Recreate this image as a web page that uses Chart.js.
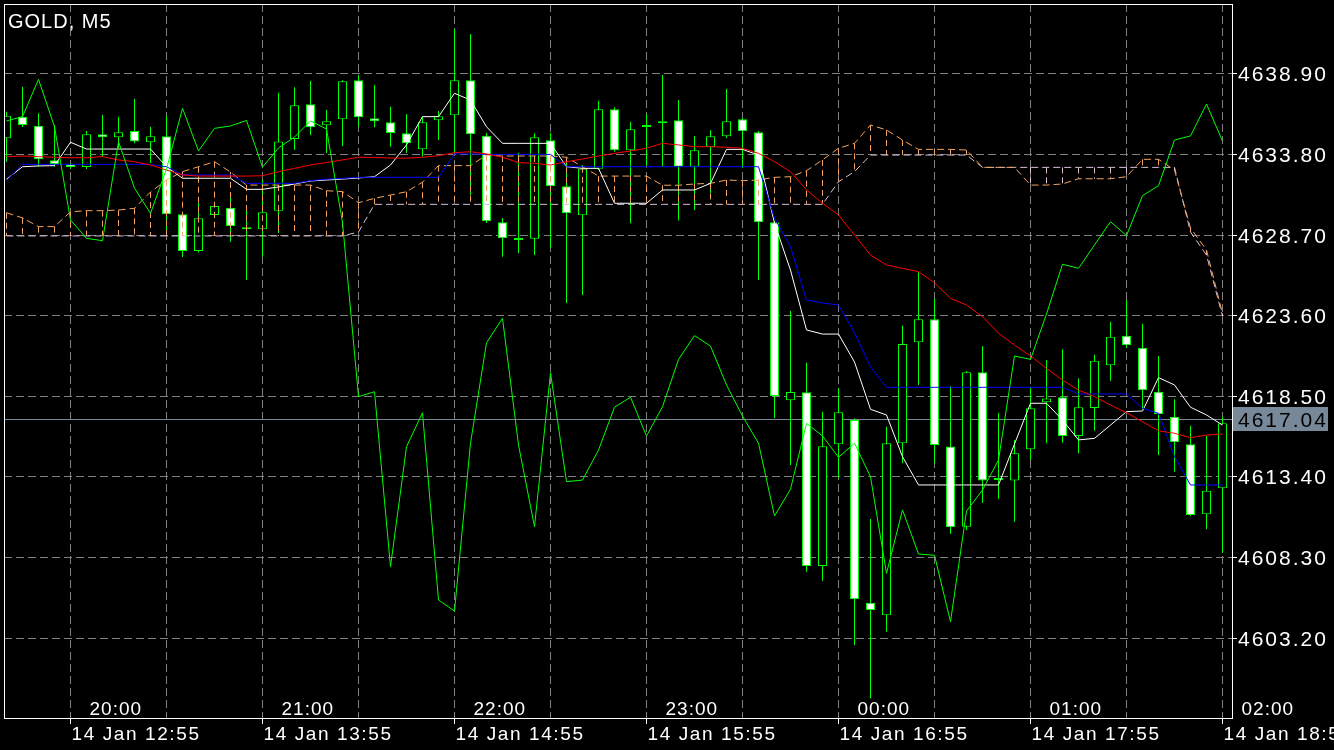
<!DOCTYPE html>
<html>
<head>
<meta charset="utf-8">
<title>GOLD, M5</title>
<script src="https://cdn.jsdelivr.net/npm/chart.js@4.4.1/dist/chart.umd.min.js"></script>
<style>
  html, body { margin: 0; padding: 0; background: #000; overflow: hidden; }
  canvas { display: block; }
</style>
</head>
<body>
<canvas id="chart" width="1334" height="750"></canvas>
<script>
// M5 bars, 14 Jan 12:35 .. 18:55
const open = [
  4634.83, 4636.20, 4635.63, 4633.44, 4633.18, 4633.01, 4635.08, 4634.89, 4635.29, 4634.58,
  4634.96, 4630.02, 4627.70, 4629.98, 4630.44, 4629.20, 4629.07, 4630.25, 4634.79, 4636.98,
  4635.65, 4636.03, 4638.50, 4636.10, 4635.84, 4635.15, 4634.13, 4635.97, 4636.29, 4638.50,
  4634.99, 4629.51, 4628.39, 4628.48, 4634.70, 4631.79, 4629.96, 4632.91, 4636.67, 4634.07,
  4635.55, 4635.78, 4635.97, 4633.03, 4634.28, 4634.96, 4636.03, 4635.21, 4629.51, 4618.25,
  4618.75, 4607.76, 4615.46, 4617.00, 4605.44, 4604.64, 4615.53, 4621.92, 4623.37, 4615.32,
  4610.25, 4620.02, 4613.20, 4613.18, 4615.15, 4618.12, 4618.44, 4615.99, 4617.76, 4620.46,
  4622.34, 4621.58, 4618.79, 4617.21, 4615.46, 4611.03, 4612.68
];
const high = [
  4636.51, 4638.10, 4636.41, 4635.67, 4633.27, 4635.29, 4636.31, 4636.20, 4637.32, 4635.56,
  4636.26, 4630.10, 4630.74, 4630.74, 4631.39, 4630.61, 4632.19, 4637.72, 4638.06, 4638.46,
  4636.62, 4638.50, 4638.84, 4638.20, 4636.83, 4636.37, 4636.20, 4636.56, 4641.73, 4641.43,
  4635.17, 4629.79, 4633.90, 4635.15, 4635.17, 4633.46, 4633.14, 4637.21, 4636.79, 4635.88,
  4636.37, 4638.84, 4637.25, 4634.98, 4635.36, 4637.95, 4636.12, 4635.29, 4629.60, 4623.92,
  4620.63, 4617.53, 4619.01, 4617.10, 4610.74, 4616.58, 4622.97, 4626.35, 4624.70, 4619.15,
  4620.10, 4621.68, 4617.44, 4615.74, 4619.11, 4620.80, 4621.48, 4619.64, 4621.13, 4623.22,
  4624.60, 4623.10, 4621.05, 4618.31, 4616.64, 4616.01, 4617.21
];
const low = [
  4633.35, 4635.55, 4633.03, 4633.03, 4632.89, 4632.89, 4633.67, 4634.20, 4634.51, 4633.27,
  4628.82, 4627.32, 4627.62, 4629.79, 4628.29, 4625.86, 4627.34, 4628.84, 4634.09, 4635.04,
  4633.90, 4634.34, 4635.56, 4635.53, 4634.30, 4633.90, 4633.67, 4634.72, 4633.88, 4631.24,
  4629.47, 4627.34, 4627.57, 4627.44, 4627.89, 4624.41, 4624.91, 4632.82, 4633.98, 4629.45,
  4633.08, 4633.03, 4629.62, 4630.29, 4631.37, 4634.85, 4632.95, 4625.86, 4617.13, 4614.15,
  4607.40, 4606.83, 4613.31, 4602.76, 4599.39, 4603.60, 4614.26, 4619.22, 4614.26, 4609.79,
  4610.04, 4611.77, 4612.00, 4610.56, 4614.47, 4615.53, 4615.56, 4614.89, 4616.32, 4619.49,
  4621.56, 4617.68, 4614.79, 4613.73, 4610.93, 4610.08, 4608.58
];
const close = [
  4636.26, 4635.67, 4633.50, 4633.20, 4633.01, 4635.08, 4634.89, 4635.21, 4634.62, 4634.96,
  4630.02, 4627.70, 4629.77, 4630.55, 4629.28, 4629.07, 4630.15, 4634.62, 4636.92, 4635.53,
  4635.91, 4638.44, 4636.16, 4635.91, 4635.17, 4634.51, 4635.84, 4636.22, 4638.50, 4635.08,
  4629.58, 4628.50, 4628.42, 4634.89, 4631.79, 4630.08, 4632.91, 4636.67, 4634.07, 4635.40,
  4635.57, 4635.91, 4633.03, 4634.07, 4634.96, 4635.91, 4635.27, 4629.51, 4618.52, 4618.77,
  4607.76, 4615.34, 4617.49, 4605.65, 4604.98, 4615.53, 4621.81, 4623.37, 4615.42, 4610.21,
  4620.02, 4613.18, 4613.22, 4614.89, 4617.74, 4618.37, 4615.99, 4617.81, 4620.75, 4622.27,
  4621.73, 4618.88, 4617.36, 4615.59, 4610.99, 4612.53, 4616.79
];

// indicator lines, one value per bar
const chikou = [
  4635.93, 4636.20, 4638.56, 4635.56, 4629.66, 4628.50, 4628.35, 4634.62, 4631.67, 4630.08,
  4632.89, 4636.73, 4634.03, 4635.46, 4635.61, 4635.96, 4633.01, 4634.22, 4634.91, 4635.93,
  4635.42, 4629.51, 4618.48, 4618.79, 4607.72, 4615.31, 4617.46, 4605.61, 4604.91, 4615.53,
  4621.89, 4623.44, 4615.42, 4610.25, 4619.99, 4613.10, 4613.20, 4615.10, 4617.81, 4618.44,
  4615.99, 4617.84, 4620.84, 4622.34, 4621.68, 4619.22, 4617.25, 4615.53, 4610.93, 4612.62,
  4616.79, 4615.99, 4614.64, 4615.53, 4613.41, 4607.30, 4611.31, 4608.52, 4608.44, 4604.24,
  4611.24, 4612.57, 4614.47, 4621.05, 4620.84, 4623.71, 4626.86, 4626.60, 4628.08, 4629.55,
  4628.67, 4631.20, 4631.83, 4634.72, 4634.98, 4637.00, 4634.66
];
const redLine = [
  4633.67, 4633.71, 4633.67, 4633.63, 4633.60, 4633.60, 4633.67, 4633.46, 4633.35, 4633.14,
  4632.82, 4632.51, 4632.44, 4632.44, 4632.44, 4632.44, 4632.46, 4632.72, 4632.93, 4633.14,
  4633.30, 4633.46, 4633.63, 4633.62, 4633.58, 4633.57, 4633.63, 4633.73, 4633.92, 4633.98,
  4633.84, 4633.63, 4633.29, 4633.25, 4633.14, 4633.35, 4633.52, 4633.71, 4633.88, 4634.03,
  4634.20, 4634.51, 4634.41, 4634.30, 4634.30, 4634.26, 4634.20, 4633.88, 4633.35, 4632.72,
  4631.56, 4630.72, 4629.98, 4628.71, 4627.44, 4626.81, 4626.60, 4626.39, 4625.69, 4624.70,
  4624.28, 4623.54, 4622.49, 4621.75, 4621.05, 4620.27, 4619.53, 4618.90, 4618.48, 4617.95,
  4617.46, 4616.89, 4616.32, 4616.16, 4615.88, 4616.05, 4616.12
];
const blueLine = [
  4632.17, 4633.18, 4633.18, 4633.18, 4633.18, 4633.18, 4633.18, 4633.18, 4633.18, 4633.18,
  4633.03, 4632.51, 4632.51, 4632.51, 4632.51, 4631.98, 4631.98, 4631.98, 4631.98, 4632.15,
  4632.25, 4632.29, 4632.36, 4632.36, 4632.36, 4632.36, 4632.36, 4632.36, 4633.84, 4633.84,
  4633.81, 4633.81, 4633.81, 4633.81, 4633.81, 4633.03, 4633.03, 4633.03, 4633.03, 4633.03,
  4633.03, 4633.03, 4633.03, 4633.03, 4633.03, 4633.03, 4633.03, 4633.03, 4629.77, 4627.97,
  4624.60, 4624.41, 4624.28, 4622.51, 4620.37, 4619.07, 4619.07, 4619.07, 4619.07, 4619.07,
  4619.07, 4619.07, 4619.07, 4619.07, 4619.07, 4619.07, 4619.07, 4618.65, 4618.65, 4618.65,
  4618.65, 4617.74, 4617.43, 4614.68, 4612.89, 4612.89, 4612.89
];
const whiteLine = [
  4632.24, 4633.03, 4633.08, 4633.10, 4634.58, 4634.15, 4634.15, 4634.15, 4634.15, 4634.15,
  4633.03, 4632.30, 4632.30, 4632.30, 4632.30, 4631.60, 4631.60, 4631.75, 4631.94, 4632.13,
  4632.19, 4632.25, 4632.32, 4632.40, 4633.14, 4634.41, 4636.20, 4636.20, 4637.68, 4637.25,
  4635.56, 4634.51, 4634.51, 4634.51, 4634.51, 4633.03, 4632.93, 4632.93, 4630.72, 4630.72,
  4630.72, 4631.56, 4631.56, 4631.56, 4631.98, 4634.13, 4634.13, 4633.77, 4629.45, 4626.49,
  4622.70, 4622.44, 4622.44, 4620.67, 4617.68, 4617.32, 4614.68, 4612.89, 4612.89, 4612.89,
  4612.89, 4612.89, 4612.89, 4615.48, 4618.06, 4618.06, 4617.00, 4615.74, 4615.84, 4616.68,
  4617.53, 4617.57, 4619.68, 4619.22, 4617.81, 4617.32, 4616.68
];
const spanA = [
  4630.12, 4629.79, 4629.24, 4629.24, 4630.18, 4630.25, 4630.25, 4630.29, 4630.40, 4631.43,
  4632.19, 4632.72, 4633.03, 4633.35, 4632.70, 4631.87, 4631.87, 4631.87, 4631.87, 4631.87,
  4631.51, 4631.46, 4630.75, 4631.03, 4631.24, 4631.45, 4632.05, 4633.10, 4633.10, 4633.10,
  4633.77, 4633.71, 4633.71, 4633.71, 4633.71, 4633.63, 4633.03, 4632.44, 4632.44, 4632.44,
  4632.44, 4631.86, 4631.86, 4631.94, 4631.98, 4632.19, 4632.15, 4632.19, 4632.36, 4632.40,
  4632.78, 4633.46, 4634.20, 4634.51, 4635.67, 4635.36, 4634.72, 4634.13, 4634.13, 4634.13,
  4634.09, 4632.99, 4632.99, 4632.99, 4631.87, 4631.87, 4631.94, 4632.27, 4632.27, 4632.27,
  4632.40, 4633.50, 4633.50, 4632.82, 4629.15, 4627.76, 4623.75
];
const spanB = [
  4628.65, 4628.65, 4628.65, 4628.65, 4628.65, 4628.65, 4628.65, 4628.65, 4628.65, 4628.65,
  4628.65, 4628.65, 4628.65, 4628.65, 4628.65, 4628.65, 4628.65, 4628.65, 4628.65, 4628.65,
  4628.65, 4628.65, 4628.90, 4630.65, 4630.65, 4630.65, 4630.65, 4630.65, 4630.65, 4630.65,
  4630.65, 4630.65, 4630.65, 4630.65, 4630.65, 4630.65, 4630.65, 4630.65, 4630.65, 4630.65,
  4630.65, 4630.65, 4630.65, 4630.65, 4630.65, 4630.65, 4630.65, 4630.65, 4630.65, 4630.65,
  4630.65, 4630.65, 4632.08, 4632.72, 4633.77, 4633.77, 4633.77, 4633.77, 4633.77, 4633.77,
  4633.77, 4632.99, 4632.99, 4632.99, 4632.99, 4632.99, 4632.99, 4632.99, 4632.99, 4632.99,
  4632.99, 4632.99, 4632.99, 4632.99, 4628.90, 4627.44, 4623.58
];

const bidPrice = 4617.04;
const priceTicks = [4603.20, 4608.30, 4613.40, 4618.50, 4623.60, 4628.70, 4633.80, 4638.90];
const gridBars = [4, 10, 16, 22, 28, 34, 40, 46, 52, 58, 64, 70, 76];
const dateBars = [4, 16, 28, 40, 52, 64, 76];
const dateLabels = ['14 Jan 12:55', '14 Jan 13:55', '14 Jan 14:55', '14 Jan 15:55',
                    '14 Jan 16:55', '14 Jan 17:55', '14 Jan 18:55'];
const hourBars = [5, 17, 29, 41, 53, 65, 77];
const hourLabels = ['20:00', '21:00', '22:00', '23:00', '00:00', '01:00', '02:00'];

const FONT = '"Liberation Sans", Arial, sans-serif';
const LIME = '#00ff00';
const SANDY = '#f4a460';
const THISTLE = '#d8bfd8';
const GRID = '#808080';
const BID = '#778899';

const xy = arr => arr.map((v, i) => ({ x: i, y: v }));

function lineSet(label, data, color, order, dash) {
  return {
    type: 'line', label, data: xy(data), order,
    borderColor: color, borderWidth: 1, borderDash: dash || [],
    pointRadius: 0, tension: 0, fill: false
  };
}

// text with a bit of tracking, like the terminal font
function label(ctx, str, x, y, size, color, spacing) {
  ctx.font = size + 'px ' + FONT;
  ctx.fillStyle = color;
  ctx.letterSpacing = spacing + 'px';
  ctx.fillText(str, x, y);
}

const bidLine = {
  id: 'bidLine',
  beforeDatasetsDraw(chart) {
    const { ctx, chartArea: a, scales: { y } } = chart;
    const py = Math.round(y.getPixelForValue(bidPrice)) + 0.5;
    ctx.save();
    ctx.strokeStyle = BID;
    ctx.lineWidth = 1;
    ctx.beginPath();
    ctx.moveTo(a.left, py);
    ctx.lineTo(a.right, py);
    ctx.stroke();
    ctx.restore();
  }
};

// vertical dashed hatch between the two cloud spans
const cloudHatch = {
  id: 'cloudHatch',
  afterDatasetDraw(chart, args) {
    if (chart.data.datasets[args.index].label !== 'bodies') return;
    const { ctx, chartArea: a, scales: { x, y } } = chart;
    ctx.save();
    ctx.beginPath();
    ctx.rect(a.left, a.top, a.right - a.left, a.bottom - a.top);
    ctx.clip();
    ctx.lineWidth = 1;
    ctx.setLineDash([6, 4]);
    spanA.forEach((va, i) => {
      const vb = spanB[i];
      if (Math.abs(va - vb) < 0.02) return;
      const px = x.getPixelForValue(i);
      ctx.strokeStyle = va > vb ? SANDY : THISTLE;
      ctx.beginPath();
      ctx.moveTo(px, y.getPixelForValue(Math.max(va, vb)));
      ctx.lineTo(px, y.getPixelForValue(Math.min(va, vb)));
      ctx.stroke();
    });
    ctx.restore();
  }
};

const axisText = {
  id: 'axisText',
  afterDraw(chart) {
    const { ctx, chartArea: a, scales: { x, y } } = chart;
    ctx.save();
    ctx.textAlign = 'left';
    ctx.textBaseline = 'alphabetic';

    ctx.strokeStyle = '#ffffff';
    ctx.lineWidth = 1;
    ctx.strokeRect(a.left + 0.5, a.top + 0.5, a.right - a.left, a.bottom - a.top);

    priceTicks.forEach(v => {
      label(ctx, v.toFixed(2), a.right + 6, y.getPixelForValue(v) + 7.5, 21, '#ffffff', 2);
    });

    const by = Math.round(y.getPixelForValue(bidPrice));
    ctx.fillStyle = BID;
    ctx.fillRect(a.right + 1, by - 12, 95, 24);
    label(ctx, bidPrice.toFixed(2), a.right + 6, by + 8, 21, '#000000', 2);

    dateBars.forEach((b, k) => {
      label(ctx, dateLabels[k], x.getPixelForValue(b) + 1, 740, 19, '#ffffff', 1.6);
    });
    hourBars.forEach((b, k) => {
      label(ctx, hourLabels[k], x.getPixelForValue(b) + 3, 715, 19, '#ffffff', 1);
    });

    label(ctx, 'GOLD, M5', 8, 28, 20, '#ffffff', 1);
    ctx.restore();
  }
};

new Chart(document.getElementById('chart'), {
  type: 'bar',
  data: {
    datasets: [
      lineSet('chikou', chikou, LIME, 1),
      lineSet('red', redLine, '#ff0000', 2),
      lineSet('blue', blueLine, '#0000ff', 3),
      lineSet('white', whiteLine, '#ffffff', 4),
      lineSet('spanA', spanA, SANDY, 5, [7, 4]),
      lineSet('spanB', spanB, THISTLE, 6, [7, 4]),
      {
        label: 'bodies',
        data: open.map((o, i) => ({ x: i, y: [o, close[i]] })),
        backgroundColor: open.map((o, i) => close[i] < o ? '#ffffff' : '#000000'),
        borderColor: LIME,
        borderWidth: 1,
        borderSkipped: false,
        barThickness: 9,
        minBarLength: 2,
        inflateAmount: 0,
        grouped: false,
        order: 20
      },
      {
        label: 'wicks',
        data: low.map((l, i) => ({ x: i, y: [l, high[i]] })),
        backgroundColor: LIME,
        borderWidth: 0,
        barThickness: 1,
        inflateAmount: 0,
        grouped: false,
        order: 21
      }
    ]
  },
  options: {
    responsive: false,
    animation: false,
    events: [],
    layout: { padding: { left: 4, top: 4, right: 0, bottom: 0 } },
    plugins: { legend: { display: false }, tooltip: { enabled: false } },
    scales: {
      x: {
        type: 'linear',
        min: -0.15625,
        max: 76.59375,
        offset: false,
        afterBuildTicks: s => { s.ticks = gridBars.map(v => ({ value: v })); },
        afterFit: s => { s.height = 32; },
        ticks: { display: false },
        grid: {
          offset: false,
          color: GRID,
          lineWidth: 1,
          drawTicks: true,
          tickLength: 6,
          tickColor: c => (c.tick && dateBars.includes(c.tick.value)) ? '#ffffff' : 'rgba(0,0,0,0)'
        },
        border: { display: false, dash: [8, 4] }
      },
      y: {
        type: 'linear',
        position: 'right',
        min: 4598.141,
        max: 4643.330,
        afterBuildTicks: s => { s.ticks = priceTicks.map(v => ({ value: v })); },
        afterFit: s => { s.width = 102; },
        ticks: { display: false },
        grid: {
          color: GRID,
          lineWidth: 1,
          drawTicks: true,
          tickLength: 5,
          tickColor: '#ffffff'
        },
        border: { display: false, dash: [8, 4] }
      }
    }
  },
  plugins: [bidLine, cloudHatch, axisText]
});
</script>
</body>
</html>
